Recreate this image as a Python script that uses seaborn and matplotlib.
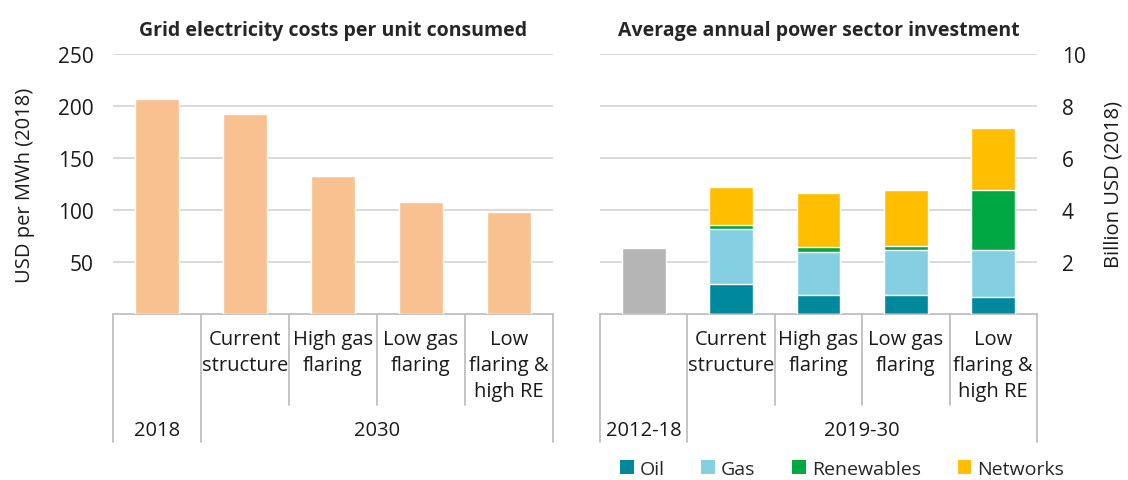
import pandas as pd
import seaborn as sns
import matplotlib.pyplot as plt
from matplotlib.patches import Patch
import matplotlib.transforms as mtransforms

sns.set_theme(style="white")
plt.rcParams['font.family'] = ['Open Sans', 'DejaVu Sans']

# Datos del panel izquierdo (USD por MWh)
left_keys = ["2018", "Current structure", "High gas flaring", "Low gas flaring", "Low flaring & high RE"]
left_values = [207, 192, 133, 108, 98]

# Datos del panel derecho (miles de millones USD)
right_keys = ["2012-18", "Current structure", "High gas flaring", "Low gas flaring", "Low flaring & high RE"]
hist_total = [2.53, 0, 0, 0, 0]
oil = [0, 1.14, 0.72, 0.72, 0.65]
gas = [0, 2.12, 1.68, 1.73, 1.80]
renewables = [0, 0.15, 0.17, 0.15, 2.32]
networks = [0, 1.47, 2.10, 2.17, 2.38]

# Etiquetas del eje de categorias
scenario_labels = ["", "Current\nstructure", "High gas\nflaring", "Low gas\nflaring", "Low\nflaring &\nhigh RE"]
left_groups = [("2018", 0, 1), ("2030", 1, 5)]
right_groups = [("2012-18", 0, 1), ("2019-30", 1, 5)]

colors = {"Oil": "#00889E", "Gas": "#84CFE1", "Renewables": "#00A843", "Networks": "#FFBE00"}
peach = "#F9C190"
grey = "#B5B5B5"
grid_col = "#D9D9D9"
sep_col = "#BFBFBF"
txt_col = "#1a1a1a"

fig = plt.figure(figsize=(11.28, 4.81), dpi=100)
ax1 = fig.add_axes([113 / 1128, 1 - 315 / 481, 440 / 1128, 260 / 481])
ax2 = fig.add_axes([600 / 1128, 1 - 315 / 481, 437 / 1128, 260 / 481])

df_left = pd.DataFrame({"cat": left_keys, "value": left_values})
sns.barplot(data=df_left, x="cat", y="value", order=left_keys, color=peach,
            width=0.5, saturation=1, ax=ax1, zorder=3)

df_right = pd.DataFrame({"cat": right_keys, "hist": hist_total, "Oil": oil, "Gas": gas,
                         "Renewables": renewables, "Networks": networks})
# Apilado: se dibujan acumulados desde arriba hacia abajo
df_right["c_oil"] = df_right["Oil"]
df_right["c_gas"] = df_right["c_oil"] + df_right["Gas"]
df_right["c_ren"] = df_right["c_gas"] + df_right["Renewables"]
df_right["c_net"] = df_right["c_ren"] + df_right["Networks"]
for col, name in [("c_net", "Networks"), ("c_ren", "Renewables"), ("c_gas", "Gas"), ("c_oil", "Oil")]:
    sns.barplot(data=df_right, x="cat", y=col, order=right_keys, color=colors[name],
                width=0.5, saturation=1, ax=ax2, zorder=3)
sns.barplot(data=df_right, x="cat", y="hist", order=right_keys, color=grey,
            width=0.5, saturation=1, ax=ax2, zorder=3)


def style_axis(ax, ylim, ticks, ylabel, side, title, groups):
    ax.set_ylim(0, ylim)
    ax.set_xlim(-0.5, 4.5)
    ax.set_yticks(ticks)
    ax.set_yticklabels([str(t) for t in ticks], fontsize=15, color=txt_col)
    for t in ticks:
        ax.axhline(t, color=grid_col, lw=1.4, zorder=0)
    for s in ["top", "left", "right"]:
        ax.spines[s].set_visible(False)
    ax.spines["bottom"].set_color(sep_col)
    ax.spines["bottom"].set_linewidth(1.3)
    ax.set_xlabel("")
    ax.set_xticks([])
    ax.set_ylabel(ylabel, fontsize=14.5, color=txt_col)
    if side == "right":
        ax.yaxis.tick_right()
        ax.yaxis.set_label_position("right")
        ax.yaxis.labelpad = 13
        ax.tick_params(axis="y", length=0, pad=18)
    else:
        ax.yaxis.labelpad = 16
        ax.tick_params(axis="y", length=0, pad=14)
    ax.set_title(title, fontsize=14, fontweight="bold", pad=14)

    trans = mtransforms.blended_transform_factory(ax.transData, ax.transAxes)
    px = 1 / 260  # un pixel en unidades de ejes
    inner_bottom = -(406 - 315) * px
    outer_bottom = -(443 - 315) * px
    group_edges = set()
    for _, a, b in groups:
        group_edges.add(a)
        group_edges.add(b)
    for i in range(6):
        xb = i - 0.5
        y0 = outer_bottom if i in group_edges else inner_bottom
        ax.plot([xb, xb], [0, y0], transform=trans, color=sep_col, lw=1.3, clip_on=False)
    for i, lab in enumerate(scenario_labels):
        if lab:
            ax.text(i, -(330 - 315) * px, lab, transform=trans, ha="center", va="top",
                    fontsize=14.5, color=txt_col, linespacing=1.4)
    for lab, a, b in groups:
        ax.text((a + b - 1) / 2, -(431 - 315) * px, lab, transform=trans, ha="center",
                va="center", fontsize=14.5, color=txt_col)


style_axis(ax1, 250, [50, 100, 150, 200, 250], "USD per MWh (2018)", "left",
           "Grid electricity costs per unit consumed", left_groups)
style_axis(ax2, 10, [2, 4, 6, 8, 10], "Billion USD (2018)", "right",
           "Average annual power sector investment", right_groups)

handles = [Patch(facecolor=colors[k], edgecolor="none", label=k) for k in ["Oil", "Gas", "Renewables", "Networks"]]
fig.legend(handles=handles, loc="center", bbox_to_anchor=(842 / 1128, 1 - 470 / 481), ncol=4,
           frameon=False, fontsize=14, handlelength=0.7, handleheight=0.7, handletextpad=0.3,
           columnspacing=1.9, borderaxespad=0)

fig.savefig("out.png", dpi=100)
